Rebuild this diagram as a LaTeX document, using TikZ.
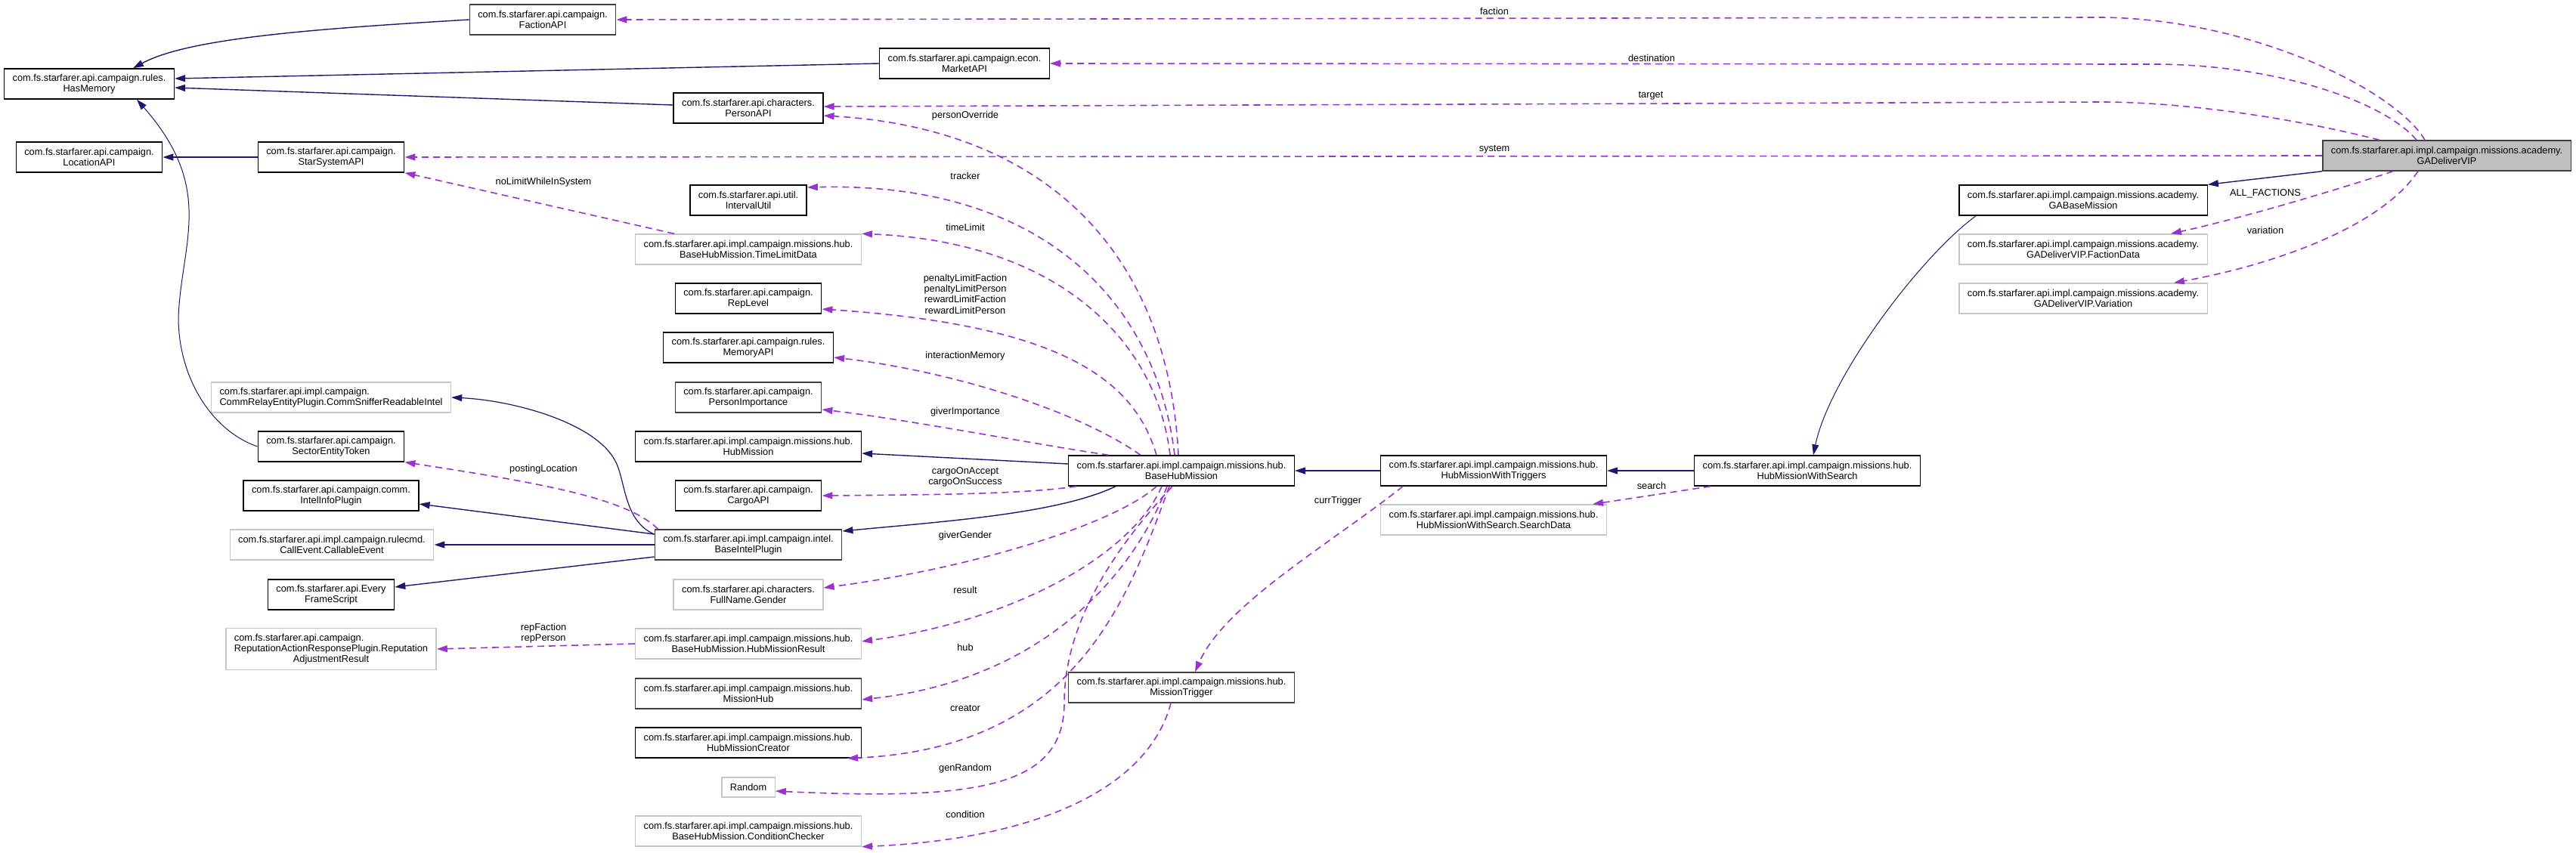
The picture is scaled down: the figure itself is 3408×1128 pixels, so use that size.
\documentclass[tikz,border=0pt]{standalone}
\usepackage{fontspec}
\setmainfont{Liberation Sans}
\usetikzlibrary{arrows.meta,calc}
\definecolor{inhblue}{HTML}{191970}
\definecolor{useorchid}{HTML}{9A32CD}
\definecolor{boxgray}{HTML}{BFBFBF}

\begin{document}
\begin{tikzpicture}[x=1pt, y=-1pt, font=\fontsize{12.8}{14.3}\selectfont,
    cls/.style={draw=#1, fill=white, line width=1.4pt, align=center,
                inner xsep=11pt, inner ysep=0pt, minimum height=40pt},
    cls/.default=black,
    ext/.style={cls=black!22},
    inh/.style={-{Triangle[length=14pt,width=9pt]}, line width=1.4pt, inhblue},
    usage/.style={-{Triangle[length=14pt,width=9pt]}, line width=1.6pt,
                  useorchid, dash pattern=on 9pt off 6pt},
    lbl/.style={inner sep=0pt, align=center}]

  \useasboundingbox (0,0) rectangle (3408,1128);

  %% Class being described and its own types
  \node[cls=black!75, fill=boxgray] (gadeliver) at (3237,206)
    {com.fs.starfarer.api.impl.campaign.missions.academy.\\GADeliverVIP};
  \node[cls]  (gabase)        at (2756,265) {com.fs.starfarer.api.impl.campaign.missions.academy.\\GABaseMission};
  \node[ext]  (factiondata)   at (2756,330) {com.fs.starfarer.api.impl.campaign.missions.academy.\\GADeliverVIP.FactionData};
  \node[ext]  (variationdata) at (2756,395) {com.fs.starfarer.api.impl.campaign.missions.academy.\\GADeliverVIP.Variation};

  %% Hub mission chain
  \node[cls]  (hubsearch)   at (2391,623) {com.fs.starfarer.api.impl.campaign.missions.hub.\\HubMissionWithSearch};
  \node[ext]  (searchdata)  at (1976,688) {com.fs.starfarer.api.impl.campaign.missions.hub.\\HubMissionWithSearch.SearchData};
  \node[cls]  (hubtrig)     at (1976,623) {com.fs.starfarer.api.impl.campaign.missions.hub.\\HubMissionWithTriggers};
  \node[cls]  (basehub)     at (1563,623) {com.fs.starfarer.api.impl.campaign.missions.hub.\\BaseHubMission};
  \node[cls=black!75] (missiontrig) at (1563,910) {com.fs.starfarer.api.impl.campaign.missions.hub.\\MissionTrigger};

  %% Campaign API (top left)
  \node[cls=black!75] (factionapi) at (718,26) {com.fs.starfarer.api.campaign.\\FactionAPI};
  \node[cls]  (marketapi)   at (1276,84)  {com.fs.starfarer.api.campaign.econ.\\MarketAPI};
  \node[cls]  (personapi)   at (990,143)  {com.fs.starfarer.api.characters.\\PersonAPI};
  \node[cls]  (hasmemory)   at (118,111)  {com.fs.starfarer.api.campaign.rules.\\HasMemory};
  \node[cls]  (locationapi) at (118,208)  {com.fs.starfarer.api.campaign.\\LocationAPI};
  \node[cls]  (starsystem)  at (438,208)  {com.fs.starfarer.api.campaign.\\StarSystemAPI};

  %% Field types of BaseHubMission (middle column)
  \node[cls]  (intervalutil) at (990,265)  {com.fs.starfarer.api.util.\\IntervalUtil};
  \node[ext]  (timelimit)    at (990,330)  {com.fs.starfarer.api.impl.campaign.missions.hub.\\BaseHubMission.TimeLimitData};
  \node[cls]  (replevel)     at (990,395)  {com.fs.starfarer.api.campaign.\\RepLevel};
  \node[cls]  (memoryapi)    at (990,460)  {com.fs.starfarer.api.campaign.rules.\\MemoryAPI};
  \node[cls=black!75] (personimp) at (990,526) {com.fs.starfarer.api.campaign.\\PersonImportance};
  \node[cls]  (hubmission)   at (990,591)  {com.fs.starfarer.api.impl.campaign.missions.hub.\\HubMission};
  \node[cls]  (cargoapi)     at (990,656)  {com.fs.starfarer.api.campaign.\\CargoAPI};
  \node[cls=black!75] (baseintel) at (990,721) {com.fs.starfarer.api.impl.campaign.intel.\\BaseIntelPlugin};
  \node[ext]  (gender)       at (990,787)  {com.fs.starfarer.api.characters.\\FullName.Gender};
  \node[ext]  (hubresult)    at (990,852)  {com.fs.starfarer.api.impl.campaign.missions.hub.\\BaseHubMission.HubMissionResult};
  \node[cls=black!75] (missionhub) at (990,918) {com.fs.starfarer.api.impl.campaign.missions.hub.\\MissionHub};
  \node[cls]  (hubcreator)   at (990,983)  {com.fs.starfarer.api.impl.campaign.missions.hub.\\HubMissionCreator};
  \node[ext, minimum height=26pt] (randomnode) at (990,1042) {Random};
  \node[ext]  (condchecker)  at (990,1100) {com.fs.starfarer.api.impl.campaign.missions.hub.\\BaseHubMission.ConditionChecker};

  %% Intel side (left column)
  \node[ext]  (commsniffer) at (438,526)
    {\rlap{com.fs.starfarer.api.impl.campaign.}\phantom{CommRelayEntityPlugin.CommSnifferReadableIntel}\\CommRelayEntityPlugin.CommSnifferReadableIntel};
  \node[cls]  (sectortoken) at (438,591) {com.fs.starfarer.api.campaign.\\SectorEntityToken};
  \node[cls]  (intelinfo)   at (438,656) {com.fs.starfarer.api.campaign.comm.\\IntelInfoPlugin};
  \node[ext]  (callable)    at (439,721) {com.fs.starfarer.api.impl.campaign.rulecmd.\\CallEvent.CallableEvent};
  \node[cls]  (everyframe)  at (438,787) {com.fs.starfarer.api.Every\\FrameScript};
  \node[ext, minimum height=55pt] (represult) at (438,859)
    {\rlap{com.fs.starfarer.api.campaign.}\phantom{ReputationActionResponsePlugin.Reputation}\\ReputationActionResponsePlugin.Reputation\\AdjustmentResult};

  %% Inheritance
  \draw[inh] (factionapi.west) .. controls (420,38) and (250,50) .. ([xshift=58pt]hasmemory.north);
  \draw[inh] (marketapi.west) -- ([yshift=7pt]hasmemory.east);
  \draw[inh] ([yshift=4pt]personapi.west) -- ([yshift=-5pt]hasmemory.east);
  \draw[inh, line width=1pt] (sectortoken.west) .. controls (280,570) and (236,500) .. (236,420)
    .. controls (240,320) and (285,250) .. ([xshift=63pt]hasmemory.south);
  \draw[inh] (starsystem.west) -- (locationapi.east);
  \draw[inh, line width=1.2pt] ([yshift=14pt]baseintel.west) .. controls (826,690) and (828,640) .. (815,612)
    .. controls (790,560) and (680,530) .. (commsniffer.east);
  \draw[inh] ([yshift=14pt]baseintel.west) -- ([yshift=-11pt]intelinfo.east);
  \draw[inh] (baseintel.west) -- (callable.east);
  \draw[inh] ([yshift=-16pt]baseintel.west) -- ([yshift=10pt]everyframe.east);
  \draw[inh] ([yshift=9pt]basehub.west) -- ([yshift=-9pt]hubmission.east);
  \draw[inh] ([xshift=-87pt]basehub.south) .. controls (1400,680) and (1250,690) .. ([yshift=18pt]baseintel.east);
  \draw[inh] (hubtrig.west) -- (basehub.east);
  \draw[inh] (hubsearch.west) -- (hubtrig.east);
  \draw[inh] (gadeliver.south west) -- (gabase.north east);
  \draw[inh, line width=1pt] ([xshift=23pt]gabase.south west) .. controls (2540,340) and (2420,500) .. ([xshift=8pt]hubsearch.north);

  %% Fields of GADeliverVIP
  \draw[usage] ([xshift=-29pt]gadeliver.north) .. controls (3170,120) and (2980,25) .. (2780,23) -- (factionapi.east);
  \draw[usage] ([xshift=-40pt]gadeliver.north) .. controls (3150,130) and (3000,85) .. (2850,85) -- (marketapi.east);
  \draw[usage] ([xshift=-89pt]gadeliver.north) .. controls (3050,160) and (2900,135) .. (2780,135) -- ([yshift=2pt]personapi.east);
  \draw[usage] (gadeliver.west) -- (starsystem.east);
  \draw[usage] ([xshift=-71pt]gadeliver.south) .. controls (3080,255) and (2960,290) .. ([xshift=-49pt]factiondata.north east);
  \draw[usage] ([xshift=-38pt]gadeliver.south) .. controls (3150,300) and (3010,350) .. ([xshift=-45pt]variationdata.north east);
  \node[lbl] (lfaction)  at (1977,15)  {faction};
  \node[lbl] (ldest)     at (2185,77)  {destination};
  \node[lbl] (ltarget)   at (2184,127) {target};
  \node[lbl] (lsystem)   at (1977,198) {system};
  \node[lbl] (lallfac)   at (2997,256) {ALL\_FACTIONS};
  \node[lbl] (lvariation) at (2997,305) {variation};

  %% Fields of the hub missions
  \draw[usage] ([xshift=-128pt]hubsearch.south) -- ([xshift=-19pt]searchdata.north east);
  \draw[usage] ([xshift=-120pt]hubtrig.south) .. controls (1760,720) and (1620,800) .. ([xshift=18pt]missiontrig.north);
  \node[lbl] (lsearch)  at (2185,643) {search};
  \node[lbl] (lcurrtrig) at (1770,663) {currTrigger};

  %% Fields of BaseHubMission
  \draw[usage] ([xshift=-4pt]basehub.north)  .. controls (1545,330) and (1380,170) .. ([yshift=-10pt]personapi.east);
  \draw[usage] ([xshift=-9pt]basehub.north)  .. controls (1530,400) and (1380,240) .. ([yshift=17pt]intervalutil.east);
  \draw[usage] ([xshift=-15pt]basehub.north) .. controls (1530,450) and (1400,320) .. (timelimit.north east);
  \draw[usage] ([xshift=-33pt]basehub.north) .. controls (1500,500) and (1400,430) .. ([yshift=-14pt]replevel.east);
  \draw[usage] ([xshift=-54pt]basehub.north) .. controls (1420,540) and (1250,490) .. ([yshift=-13pt]memoryapi.east);
  \draw[usage] ([xshift=-96pt]basehub.north) .. controls (1380,590) and (1200,555) .. ([yshift=-16pt]personimp.east);
  \draw[usage] ([xshift=-139pt]basehub.south) .. controls (1350,655) and (1200,655) .. (cargoapi.east);
  \draw[usage] ([xshift=-33pt]basehub.south) .. controls (1480,690) and (1300,750) .. ([yshift=9pt]gender.east);
  \draw[usage] ([xshift=-26pt]basehub.south) .. controls (1500,730) and (1350,820) .. ([yshift=3pt]hubresult.east);
  \draw[usage] ([xshift=-19pt]basehub.south) .. controls (1500,760) and (1380,900) .. ([yshift=-8pt]missionhub.east);
  \draw[usage] ([xshift=-16pt]basehub.south) .. controls (1490,800) and (1420,990) .. ([xshift=-19pt]hubcreator.south east);
  \draw[usage] ([xshift=-12pt]basehub.south) .. controls (1480,720) and (1408,820) .. (1408,930)
    .. controls (1408,1040) and (1300,1060) .. ([yshift=-5pt]randomnode.east);
  \draw[usage] ([xshift=-14pt]missiontrig.south) .. controls (1520,1040) and (1380,1110) .. (condchecker.south east);
  \node[lbl] (lperson)   at (1277,153) {personOverride};
  \node[lbl] (ltracker)  at (1277,233) {tracker};
  \node[lbl] (ltimelim)  at (1277,301) {timeLimit};
  \node[lbl] (llimits)   at (1277,389) {penaltyLimitFaction\\penaltyLimitPerson\\rewardLimitFaction\\rewardLimitPerson};
  \node[lbl] (lmemory)   at (1277,471) {interactionMemory};
  \node[lbl] (limport)   at (1277,545) {giverImportance};
  \node[lbl] (lcargo)    at (1277,631) {cargoOnAccept\\cargoOnSuccess};
  \node[lbl] (lgender)   at (1277,709) {giverGender};
  \node[lbl] (lresult)   at (1277,781) {result};
  \node[lbl] (lhub)      at (1277,857) {hub};
  \node[lbl] (lcreator)  at (1277,937) {creator};
  \node[lbl] (lrandom)   at (1277,1017) {genRandom};
  \node[lbl] (lcondition) at (1277,1078) {condition};

  %% Remaining fields
  \draw[usage] ([xshift=52pt]timelimit.north west) -- (starsystem.south east);
  \draw[usage] ([xshift=5pt]baseintel.north west) .. controls (830,660) and (720,640) .. (sectortoken.south east);
  \draw[usage] (hubresult.west) -- (represult.east);
  \node[lbl] (lnolimit)  at (719,241) {noLimitWhileInSystem};
  \node[lbl] (lposting)  at (719,621) {postingLocation};
  \node[lbl] (lrep)      at (719,838) {repFaction\\repPerson};
\end{tikzpicture}
\end{document}
